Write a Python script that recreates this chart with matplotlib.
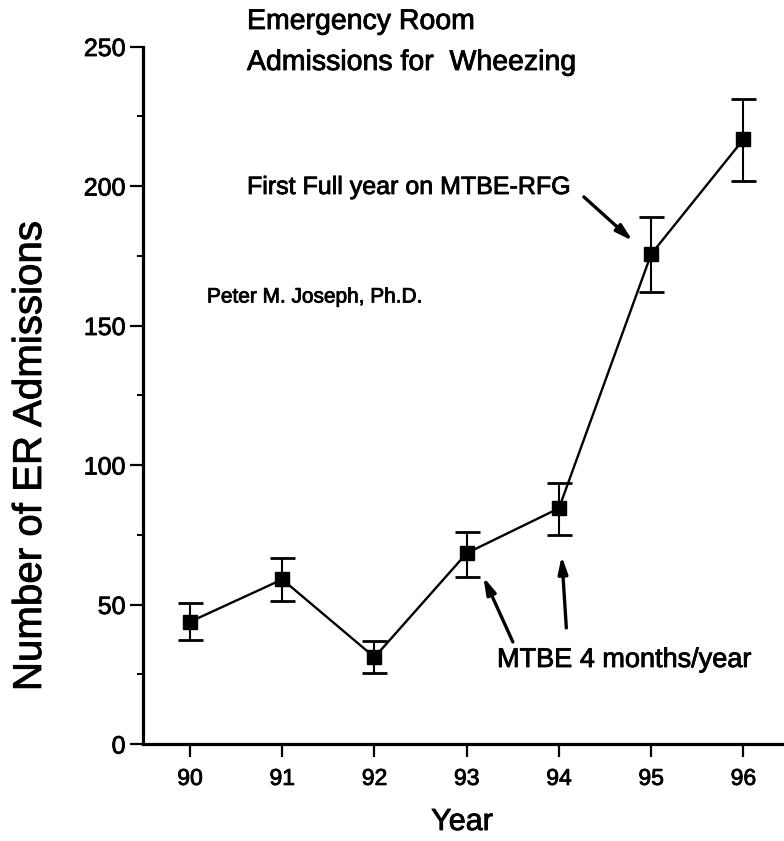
"""Emergency room admissions for wheezing, 1990-1996, with error bars."""

import matplotlib
matplotlib.use("Agg")
import matplotlib.patheffects as pe
import matplotlib.pyplot as plt
from matplotlib.ticker import MultipleLocator

FIG_W, FIG_H = 784, 841
FONT = ["Liberation Sans", "DejaVu Sans"]
# the original is a scan, so its type looks a little heavier than plain regular
HEAVY = [pe.withStroke(linewidth=0.6, foreground="black")]

years = [90, 91, 92, 93, 94, 95, 96]
admissions = [43.8, 59.0, 31.1, 68.4, 84.5, 175.6, 216.7]
err_low = [6.6, 7.7, 5.7, 8.4, 9.5, 13.5, 14.8]
err_high = [6.6, 7.5, 5.7, 7.7, 9.2, 13.2, 14.6]

y_ticks = [0, 50, 100, 150, 200, 250]

# (arrow tail, arrow tip) in data units
arrows = [
    ((93.50, 36.6), (93.18, 59.9)),
    ((94.08, 41.6), (94.03, 67.4)),
    ((94.27, 196.1), (94.80, 180.3)),
]


def px(x, y):
    """pixel position (from top-left) -> figure fraction"""
    return x / FIG_W, 1 - y / FIG_H


def main() -> None:
    plt.rcParams["font.family"] = FONT
    fig = plt.figure(figsize=(FIG_W / 100, FIG_H / 100), dpi=100)

    left, top = px(143, 46.5)
    _, bottom = px(0, 744)
    ax = fig.add_axes([left, bottom, 1 - left, top - bottom])

    ax.errorbar(years, admissions, yerr=[err_low, err_high], color="black",
                marker="s", markersize=10, linewidth=1.7, elinewidth=1.5,
                capsize=9, capthick=2)

    ax.set_xlim(89.49, 96.44)
    ax.set_ylim(0, 250)
    ax.set_xticks(years)
    ax.set_yticks(y_ticks)
    ax.yaxis.set_minor_locator(MultipleLocator(25))

    for side in ("top", "right"):
        ax.spines[side].set_visible(False)
    for side in ("left", "bottom"):
        ax.spines[side].set_linewidth(2.3)
    ax.tick_params(axis="both", which="major", length=9.5, width=1.6,
                   direction="out")
    ax.tick_params(axis="x", pad=7, labelsize=16.5)
    ax.tick_params(axis="y", pad=3, labelsize=18)
    ax.tick_params(axis="y", which="minor", length=4, width=1.4)
    for lbl in ax.get_xticklabels() + ax.get_yticklabels():
        lbl.set_path_effects(HEAVY)

    for tail, tip in arrows:
        ax.annotate("", xy=tip, xytext=tail,
                    arrowprops=dict(arrowstyle="-|>,head_length=1.0,head_width=0.28",
                                    color="black", lw=2.4, shrinkA=0, shrinkB=0))

    texts = [
        (247, 22, "Emergency Room", 20.5, "left", 0),
        (247, 63, "Admissions for  Wheezing", 20.5, "left", 0),
        (247, 187, "First Full year on MTBE-RFG", 18, "left", 0),
        (207, 297, "Peter M. Joseph, Ph.D.", 15, "left", 0),
        (497, 660, "MTBE 4 months/year", 19.5, "left", 0),
        (462, 822, "Year", 22, "center", 0),
        (30, 456, "Number of ER Admissions", 29, "center", 90),
    ]
    for x, y, s, size, ha, rot in texts:
        fig.text(*px(x, y), s, fontsize=size, ha=ha, va="center", rotation=rot,
                 path_effects=HEAVY)

    fig.savefig("out.png", dpi=100)
    plt.close(fig)


if __name__ == "__main__":
    main()
